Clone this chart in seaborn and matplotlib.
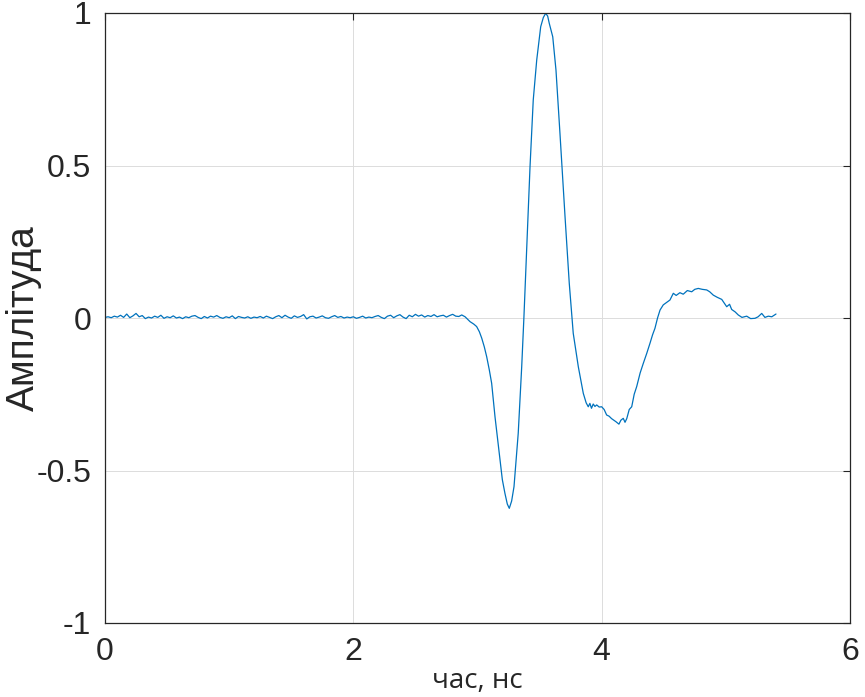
import numpy as np
import pandas as pd
import matplotlib
matplotlib.use("Agg")
import matplotlib.pyplot as plt
import seaborn as sns

# ---- data ----
# baseline segment sampled every 0.025 ns from 0 to 2.85 ns
baseline_step = 0.025
baseline_amp = [
    0.002, 0.004, 0.001, 0.006, 0.003, 0.009, 0.002, 0.013, 0.001, 0.007,
    0.015, 0.004, 0.008, -0.002, 0.003, 0.000, 0.006, 0.002, 0.009, -0.001,
    0.004, 0.001, 0.007, 0.000, 0.003, -0.002, 0.004, 0.001, 0.006, 0.008,
    0.002, -0.002, 0.005, 0.000, 0.006, 0.003, 0.008, 0.002, -0.001, 0.004,
    0.001, 0.007, -0.002, 0.005, 0.002, 0.000, 0.004, -0.001, 0.003, 0.001,
    0.005, 0.000, 0.006, 0.002, -0.002, 0.004, 0.008, 0.001, 0.009, 0.003,
    -0.001, 0.007, 0.002, 0.005, 0.011, -0.003, 0.004, 0.006, 0.000, 0.003,
    0.007, 0.001, -0.001, 0.004, 0.008, 0.002, 0.005, 0.000, 0.003, 0.001,
    0.004, -0.001, 0.002, 0.006, 0.000, 0.003, 0.001, 0.005, 0.008, 0.002,
    -0.002, 0.006, 0.009, 0.001, 0.007, 0.011, 0.003, -0.002, 0.009, 0.004,
    0.012, 0.006, 0.010, 0.003, 0.008, 0.005, 0.011, 0.004, 0.007, 0.009,
    0.003, 0.008, 0.012, 0.006, 0.005,
]

# pulse segment
pulse_time = [
    2.873, 2.900, 2.940, 2.970, 2.993, 3.015, 3.034, 3.055, 3.074, 3.095,
    3.114, 3.141, 3.160, 3.181, 3.200, 3.221, 3.240, 3.256, 3.275, 3.294,
    3.310, 3.328, 3.356, 3.374, 3.396, 3.423, 3.449, 3.477, 3.509, 3.530,
    3.549, 3.565, 3.578, 3.606, 3.632, 3.664, 3.705, 3.739, 3.771, 3.812,
    3.852, 3.875, 3.892, 3.905, 3.918, 3.932, 3.946, 3.960, 3.980, 4.000,
    4.020, 4.040, 4.060, 4.080, 4.094, 4.115, 4.139, 4.155, 4.174, 4.188,
    4.202, 4.222, 4.242, 4.262, 4.282, 4.310, 4.335, 4.363, 4.389, 4.410,
    4.429, 4.450, 4.470, 4.496, 4.520, 4.550, 4.577, 4.600, 4.630, 4.657,
    4.690, 4.725, 4.750, 4.778, 4.810, 4.846, 4.870, 4.899, 4.930, 4.967,
    5.007, 5.030, 5.047, 5.075, 5.100, 5.130, 5.168, 5.200, 5.235, 5.260,
    5.289, 5.315, 5.342, 5.370, 5.404,
]
pulse_amp = [
    0.010, 0.004, -0.012, -0.020, -0.028, -0.045, -0.066, -0.095, -0.127, -0.170,
    -0.214, -0.324, -0.390, -0.466, -0.530, -0.575, -0.610, -0.624, -0.600, -0.553,
    -0.470, -0.378, -0.160, 0.004, 0.223, 0.496, 0.715, 0.846, 0.955, 0.985,
    0.999, 0.990, 0.966, 0.922, 0.813, 0.606, 0.332, 0.114, -0.050, -0.160,
    -0.247, -0.278, -0.291, -0.280, -0.296, -0.282, -0.290, -0.285, -0.292, -0.291,
    -0.300, -0.318, -0.322, -0.330, -0.334, -0.340, -0.348, -0.335, -0.329, -0.342,
    -0.330, -0.300, -0.291, -0.250, -0.225, -0.180, -0.149, -0.116, -0.083, -0.055,
    -0.034, 0.000, 0.026, 0.043, 0.050, 0.059, 0.081, 0.074, 0.083, 0.078,
    0.090, 0.086, 0.094, 0.097, 0.094, 0.092, 0.086, 0.075, 0.068, 0.061,
    0.037, 0.045, 0.028, 0.020, 0.010, 0.002, 0.006, -0.002, -0.001, 0.004,
    0.015, 0.002, 0.006, 0.004, 0.013,
]

x_ticks = [0, 2, 4, 6]
y_ticks = [-1, -0.5, 0, 0.5, 1]
y_tick_labels = ["-1", "-0.5", "0", "0.5", "1"]
x_label = "час, нс"
y_label = "Амплітуда"

# ---- build table ----
baseline_time = np.arange(len(baseline_amp)) * baseline_step
df = pd.DataFrame({
    "t": np.concatenate([baseline_time, pulse_time]),
    "a": np.concatenate([baseline_amp, pulse_amp]),
})

sns.set_style("white")
plt.rcParams["font.family"] = ["Liberation Sans", "DejaVu Sans"]

fig = plt.figure(figsize=(8.65, 6.97), dpi=100)
ax = fig.add_axes([105 / 865, 1 - 623 / 697, (850 - 105) / 865, (623 - 13) / 697])

sns.lineplot(data=df, x="t", y="a", ax=ax, color="#0072BD", linewidth=0.9,
             sort=False, estimator=None)

ax.set_xlim(0, 6)
ax.set_ylim(-1, 1)
ax.set_xticks(x_ticks)
ax.set_xticklabels([str(v) for v in x_ticks])
ax.set_yticks(y_ticks)
ax.set_yticklabels(y_tick_labels)
ax.grid(True, color="#dcdcdc", linewidth=0.7)
ax.set_axisbelow(True)
ax.tick_params(direction="in", length=5, width=0.8, colors="#262626",
               labelsize=23, top=True, right=True, pad=10)
for sp in ax.spines.values():
    sp.set_color("#262626")
    sp.set_linewidth(0.9)
    sp.set_visible(True)

ax.set_xlabel(x_label, fontsize=20, color="#262626", labelpad=0,
              family=["Open Sans", "DejaVu Sans"])
ax.set_ylabel(y_label, fontsize=28, color="#262626")
ax.yaxis.set_label_coords(-63 / 745, 0.5)

fig.savefig("out.png", dpi=100)
